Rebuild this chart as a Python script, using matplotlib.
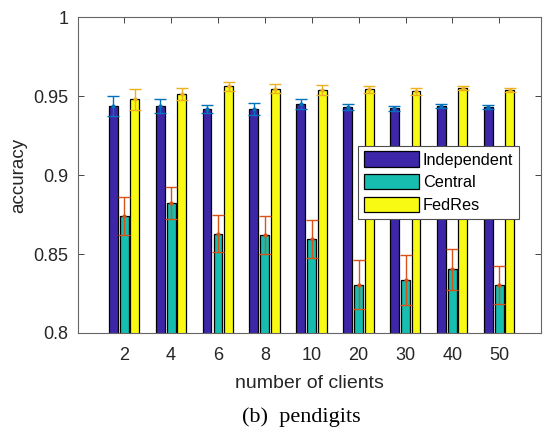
import numpy as np
import matplotlib
matplotlib.use("Agg")
from matplotlib import pyplot as plt

# Data
clients = ["2", "4", "6", "8", "10", "20", "30", "40", "50"]
indep_mean = [0.9437, 0.9439, 0.9418, 0.9420, 0.9451, 0.9432, 0.9422, 0.9437, 0.9430]
indep_err = [0.0066, 0.0045, 0.0025, 0.0037, 0.0032, 0.0020, 0.0017, 0.0014, 0.0014]
central_mean = [0.8742, 0.8825, 0.8627, 0.8620, 0.8593, 0.8304, 0.8333, 0.8403, 0.8304]
central_err = [0.0121, 0.0102, 0.0117, 0.0118, 0.0120, 0.0155, 0.0158, 0.0130, 0.0119]
fedres_mean = [0.9479, 0.9513, 0.9563, 0.9547, 0.9538, 0.9542, 0.9532, 0.9551, 0.9538]
fedres_err = [0.0067, 0.0038, 0.0029, 0.0028, 0.0030, 0.0024, 0.0022, 0.0015, 0.0015]

series_names = ["Independent", "Central", "FedRes"]
bar_colors = ["#3E26A8", "#17BDAE", "#F9FA14"]
err_colors = ["#0072BD", "#D95319", "#EDB120"]

plt.rcParams['font.family'] = ['Liberation Sans', 'DejaVu Sans']

fig = plt.figure(figsize=(5.43, 4.28), dpi=100)
ax = fig.add_axes([0.1436, 0.222, 0.8527, 0.738])

x = np.arange(1, len(clients) + 1)
offsets = [-0.235, 0.0, 0.224]
width = 0.19
means = [indep_mean, central_mean, fedres_mean]
errs = [indep_err, central_err, fedres_err]

for i in range(3):
    ax.bar(x + offsets[i], means[i], width, bottom=0, color=bar_colors[i],
           edgecolor='k', linewidth=0.9, label=series_names[i], zorder=2)
    ax.errorbar(x + offsets[i], means[i], yerr=errs[i], fmt='.', color=err_colors[i],
                ecolor=err_colors[i], elinewidth=1, capsize=4.3, capthick=1,
                markersize=4, zorder=3)

ax.set_xlim(0.013, 9.89)
ax.set_ylim(0.8, 1.0)
ax.set_xticks(x)
ax.set_xticklabels(clients)
ax.set_yticks([0.8, 0.85, 0.9, 0.95, 1.0])
ax.set_yticklabels(["0.8", "0.85", "0.9", "0.95", "1"])
ax.tick_params(direction='in', top=True, right=True, labelsize=13,
               colors='0.15', length=4, width=0.6)
ax.tick_params(axis='x', pad=10)
ax.tick_params(axis='y', pad=7)
for s in ax.spines.values():
    s.set_color('0.4')
    s.set_linewidth(0.8)

ax.set_xlabel("number of clients", fontsize=14, color='0.15', labelpad=8)
ax.set_ylabel("accuracy", fontsize=13.5, color='0.15', labelpad=4)

leg = ax.legend(loc='upper right', bbox_to_anchor=(0.9525, 0.5927), fontsize=11.7,
                fancybox=False, edgecolor='0.3', framealpha=1,
                handlelength=3.4, handleheight=1.05, borderpad=0.35,
                labelspacing=0.42, handletextpad=0.25, borderaxespad=0)
leg.get_frame().set_linewidth(0.8)

fig.text(0.555, 0.026, "(b)  pendigits", ha='center', va='center',
         fontsize=16, family='Liberation Serif')

fig.savefig("out.png", dpi=100)
